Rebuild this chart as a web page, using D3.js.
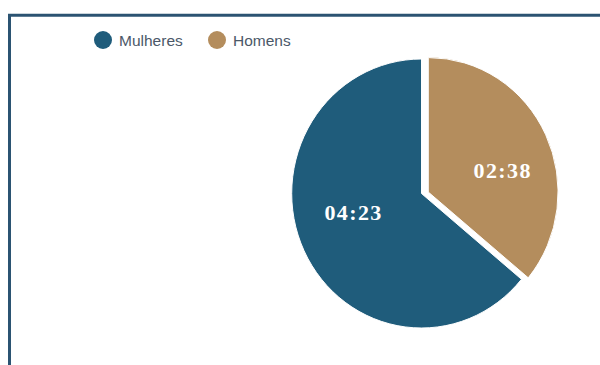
<!DOCTYPE html>
<html>
<head>
<meta charset="utf-8">
<script src="https://cdn.jsdelivr.net/npm/d3@7"></script>
<style>
  html, body { margin: 0; padding: 0; background: #fff; }
  svg { display: block; }
</style>
</head>
<body>
<svg id="chart"></svg>
<script>
// chart data
const categories = ["Mulheres", "Homens"];
const values = [4.23, 2.38];
const value_labels = ["04:23", "02:38"];
const colors = ["#1f5c7b", "#b48d5d"];

let width = 600;
let height = 365;
let cx = 421.5, cy = 193.5;
let radius = 134.5;
let squeeze = 0.965;   // the reference pie is a touch narrower than tall
let slice_out = 7.5;   // Homens slice is pulled out a little

var svg = d3.select("#chart")
    .attr("width", width)
    .attr("height", height);

// frame lines on top and left
svg.append("line")
    .attr("x1", 8).attr("x2", width)
    .attr("y1", 15.3).attr("y2", 15.3)
    .style("stroke", "#2b5372").style("stroke-width", 3);
svg.append("line")
    .attr("x1", 9.5).attr("x2", 9.5)
    .attr("y1", 14).attr("y2", height)
    .style("stroke", "#2b5372").style("stroke-width", 3);

// legend
var legend_x = [103, 217];
var legend = svg.append("g");
categories.forEach(function (name, i) {
    legend.append("circle")
        .attr("cx", legend_x[i]).attr("cy", 40).attr("r", 9)
        .attr("fill", colors[i]);
    legend.append("text")
        .attr("x", legend_x[i] + 16).attr("y", 45.5)
        .attr("font-family", "'Liberation Sans', Arial, sans-serif")
        .attr("font-size", 15.5)
        .attr("fill", "#4b5868")
        .text(name);
});

// pie (Homens starts at 12 o'clock, going clockwise)
var pie = d3.pie()
    .value(function (i) { return values[i]; })
    .sort(function (a, b) { return b - a; });
var arcs = pie(d3.range(values.length));

var arc = d3.arc().innerRadius(0).outerRadius(radius);

// the pulled-out slice moves mostly sideways in the reference
function offset(d) {
    if (d.data !== 1) return [0, 0];
    var mid = (d.startAngle + d.endAngle) / 2;
    return [slice_out * Math.sin(mid), -slice_out * 0.45 * Math.cos(mid)];
}

var pie_g = svg.append("g")
    .attr("transform", "translate(" + cx + "," + cy + ") scale(" + squeeze + ",1)");

pie_g.selectAll("path")
    .data(arcs)
    .enter()
    .append("path")
    .attr("d", arc)
    .attr("transform", function (d) {
        var o = offset(d);
        return "translate(" + o[0] / squeeze + "," + o[1] + ")";
    })
    .attr("fill", function (d) { return colors[d.data]; })
    .style("stroke", "#fff")
    .style("stroke-width", 1);

// value labels
let label_r = [73, 80];
let label_turn = 0.17;
svg.append("g").selectAll("text")
    .data(arcs)
    .enter()
    .append("text")
    .attr("x", function (d) {
        var a = (d.startAngle + d.endAngle) / 2 + label_turn;
        return cx + offset(d)[0] + squeeze * label_r[d.data] * Math.sin(a);
    })
    .attr("y", function (d) {
        var a = (d.startAngle + d.endAngle) / 2 + label_turn;
        return cy + offset(d)[1] - label_r[d.data] * Math.cos(a);
    })
    .attr("text-anchor", "middle")
    .attr("dominant-baseline", "central")
    .attr("font-family", "'Liberation Serif', 'Times New Roman', serif")
    .attr("font-weight", "bold")
    .attr("font-size", 22)
    .attr("letter-spacing", 1.4)
    .attr("fill", "#ffffff")
    .text(function (d) { return value_labels[d.data]; });
</script>
</body>
</html>
